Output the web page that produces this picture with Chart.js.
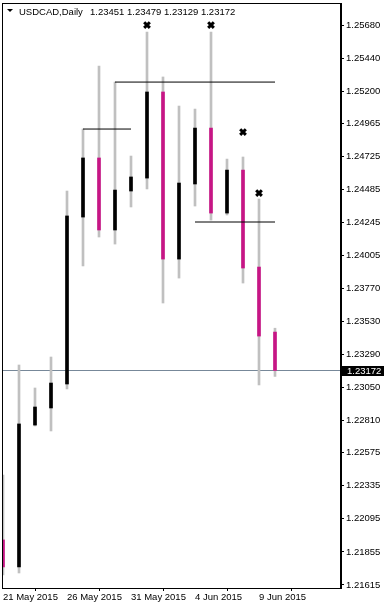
<!DOCTYPE html>
<html><head><meta charset="utf-8">
<script src="https://cdn.jsdelivr.net/npm/chart.js@4/dist/chart.umd.min.js"></script>
<style>html,body{margin:0;padding:0;background:#fff;}#wrap{width:384px;height:606px;position:relative;}</style>
</head><body><div id="wrap"><canvas id="c"></canvas></div>
<script>
const dates = ["21 May 2015","22 May 2015","24 May 2015","25 May 2015","26 May 2015","27 May 2015","28 May 2015","29 May 2015","31 May 2015","1 Jun 2015","2 Jun 2015","3 Jun 2015","4 Jun 2015","5 Jun 2015","7 Jun 2015","8 Jun 2015","9 Jun 2015","10 Jun 2015"];
const openP  = [1.21942,1.21746,1.22776,1.22900,1.23074,1.24286,1.24715,1.24192,1.24475,1.24569,1.25194,1.23981,1.24526,1.24932,1.24315,1.24627,1.23923,1.23451];
const highP  = [1.22413,1.23212,1.23045,1.23270,1.24475,1.24925,1.25382,1.25266,1.24729,1.25629,1.25303,1.25092,1.25070,1.25629,1.24707,1.24722,1.24417,1.23479];
const lowP   = [1.21688,1.21702,1.22769,1.22733,1.23038,1.23931,1.24141,1.24090,1.24359,1.24490,1.23662,1.23843,1.24366,1.24264,1.24301,1.23807,1.23067,1.23129];
const closeP = [1.21746,1.22784,1.22907,1.23081,1.24294,1.24715,1.24192,1.24482,1.24577,1.25194,1.23981,1.24533,1.24932,1.24315,1.24627,1.23916,1.23422,1.23172];
const yTicks = [1.25680,1.25440,1.25200,1.24965,1.24725,1.24485,1.24245,1.24005,1.23770,1.23530,1.23290,1.23050,1.22810,1.22575,1.22335,1.22095,1.21855,1.21615];
const xTickIdx = [0,4,8,12,16];
// fractal markers: candle index and price
const markIdx = [9,13,15,16];
const markPrice = [1.25680,1.25680,1.24903,1.24460];
// horizontal level lines: start index, end index, price
const lvlStart = [5,7,12];
const lvlEnd = [8,17,17];
const lvlPrice = [1.24925,1.25266,1.24250];
const lastPrice = 1.23172;
const title = "USDCAD,Daily";
const ohlcText = "1.23451 1.23479 1.23129 1.23172";

const UP = '#000000', DOWN = '#C71585', WICK = '#C0C0C0';
const FONT = {family:"'Liberation Sans', Arial, sans-serif", size:9.5};
const XMIN = -0.0625, XMAX = 21.125;

const wickData = dates.map((d,i)=>({x:i,y:[lowP[i],highP[i]]}));
const bodyData = dates.map((d,i)=>({x:i,y:[Math.min(openP[i],closeP[i]),Math.max(openP[i],closeP[i])]}));
const bodyColors = dates.map((d,i)=> closeP[i]>=openP[i]?UP:DOWN);

const datasets = [
  {type:'line', data:[{x:XMIN,y:lastPrice},{x:XMAX,y:lastPrice}], borderColor:'#778899', borderWidth:1, pointRadius:0, order:10},
  {type:'bar', data:wickData, backgroundColor:WICK, barThickness:2, grouped:false, order:5},
  {type:'bar', data:bodyData, backgroundColor:bodyColors, barThickness:3, grouped:false, order:4},
];
lvlPrice.forEach((p,k)=>{
  datasets.push({type:'line', data:[{x:lvlStart[k],y:p},{x:lvlEnd[k],y:p}], borderColor:'#000', borderWidth:1, pointRadius:0, order:2});
});
datasets.push({type:'scatter', data:markIdx.map((i,k)=>({x:i,y:markPrice[k]})), pointStyle:'crossRot', radius:4, borderWidth:3, borderColor:'#000', backgroundColor:'#000', order:1});

const frame = {
  id:'frame',
  afterDraw(chart){
    const {ctx, chartArea:a, scales} = chart;
    ctx.save();
    ctx.strokeStyle='#000'; ctx.lineWidth=1;
    ctx.strokeRect(a.left+0.5, a.top+0.5, a.right-a.left-1, a.bottom-a.top);
    // header
    ctx.fillStyle='#000';
    ctx.beginPath(); ctx.moveTo(7,9); ctx.lineTo(13,9); ctx.lineTo(10,12); ctx.closePath(); ctx.fill();
    ctx.font = "9.5px 'Liberation Sans', Arial, sans-serif";
    ctx.textBaseline='alphabetic'; ctx.textAlign='left';
    ctx.fillText(title, 19, 15);
    ctx.fillText(ohlcText, 90, 15);
    // last price box
    const y = scales.y.getPixelForValue(lastPrice);
    ctx.fillStyle='#000';
    ctx.fillRect(a.right+1, Math.round(y)-5, 384-a.right-1, 10);
    ctx.fillStyle='#fff';
    ctx.textBaseline='middle';
    ctx.fillText(lastPrice.toFixed(5), a.right+6, Math.round(y)+0.5);
    ctx.restore();
  }
};

new Chart(document.getElementById('c'), {
  data:{datasets},
  options:{
    responsive:true, maintainAspectRatio:false, animation:false,
    layout:{autoPadding:false, padding:{left:2,top:3,right:0,bottom:0}},
    plugins:{legend:{display:false}, tooltip:{enabled:false}},
    scales:{
      x:{type:'linear', min:XMIN, max:XMAX, offset:false,
        afterBuildTicks(s){ s.ticks = xTickIdx.map(v=>({value:v})); },
        afterFit(s){ s.height = 18; s.paddingLeft = 0; s.paddingRight = 0; },
        ticks:{autoSkip:false, maxRotation:0, minRotation:0, align:'start', padding:1, color:'#000', font:FONT,
          callback:(v)=>dates[v]},
        grid:{display:true, drawOnChartArea:false, drawTicks:true, tickLength:3, color:'#000'},
        border:{display:true, color:'#000'}
      },
      y:{type:'linear', position:'right', min:1.21593, max:1.25840,
        afterBuildTicks(s){ s.ticks = yTicks.map(v=>({value:v})); },
        afterFit(s){ s.width = 43; s.paddingTop = 0; s.paddingBottom = 0; },
        ticks:{autoSkip:false, color:'#000', font:FONT, padding:2, callback:(v)=>Number(v).toFixed(5)},
        grid:{display:true, drawOnChartArea:false, drawTicks:true, tickLength:3, color:'#000'},
        border:{display:true, color:'#000'}
      }
    }
  },
  plugins:[frame]
});
</script></body></html>
